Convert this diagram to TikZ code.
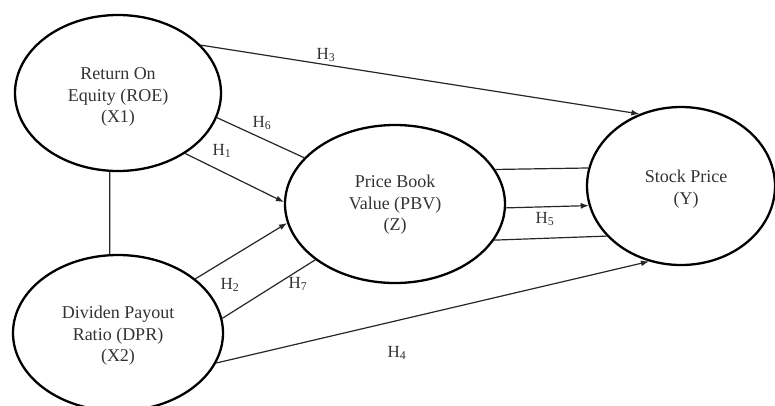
\documentclass[tikz,border=0pt]{standalone}
\usepackage{fontspec}
\setmainfont{Liberation Serif}
\usetikzlibrary{shapes.geometric,arrows.meta}
\definecolor{txt}{HTML}{333333}
\begin{document}
\begin{tikzpicture}[x=1pt,y=-1pt,
  var/.style={ellipse,draw=black,line width=2.3pt,inner sep=0pt},
  lbl/.style={text=txt,align=center,font=\fontsize{18}{21.5}\selectfont},
  link/.style={line width=1.2pt,draw=black!85},
  arr/.style={link,-{Latex[length=8pt,width=6pt]}},
  hyp/.style={text=txt,font=\fontsize{17}{19}\selectfont,inner sep=0pt}]
\useasboundingbox (0,0) rectangle (775,405);

% constructs
\node[var,minimum width=206pt,minimum height=156pt] (x1) at (118,93) {};
\node[var,minimum width=210pt,minimum height=156pt] (x2) at (118,333) {};
\node[var,minimum width=220pt,minimum height=158pt] (z)  at (395,204) {};
\node[var,minimum width=188pt,minimum height=158pt] (y)  at (681,186) {};

\node[lbl] (tx1) at (118,97) {Return On\\Equity (ROE)\\(X1)};
\node[lbl] (tx2) at (118,336) {Dividen Payout\\Ratio (DPR)\\(X2)};
\node[lbl] (tz)  at (395,205) {Price Book\\Value (PBV)\\(Z)};
\node[lbl] (ty)  at (686,189) {Stock Price\\(Y)};

% correlation between the exogenous variables
\draw[link] (x1.-96) -- (x2.96);

% direct paths
\draw[arr] (x1.30.9) -- (y.120.5);
\draw[arr] (x1.-42.4) -- (z.179.5);
\draw[arr] (x2.35.5) -- (z.190);
\draw[arr] (x2.-17.2) -- (y.247.5);
\draw[arr] (z.-2) -- (y.192.4);

% mediation paths
\draw[link] (x1.-14) -- (z.153.2);
\draw[link] (x2.8.2) -- (z.215.5);
\draw[link] (z.19.4) -- (y.169);
\draw[link] (z.-20) -- (y.214.7);

% hypothesis labels
\node[hyp] (h3) at (326,55) {H\textsubscript{3}};
\node[hyp] (h6) at (262,123) {H\textsubscript{6}};
\node[hyp] (h1) at (222,151) {H\textsubscript{1}};
\node[hyp] (h2) at (230,285) {H\textsubscript{2}};
\node[hyp] (h7) at (298,284) {H\textsubscript{7}};
\node[hyp] (h4) at (397,353) {H\textsubscript{4}};
\node[hyp] (h5) at (545,219) {H\textsubscript{5}};
\end{tikzpicture}
\end{document}
